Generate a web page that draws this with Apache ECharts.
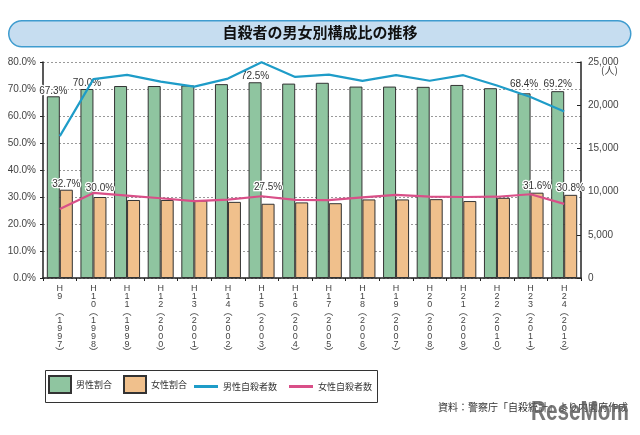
<!DOCTYPE html>
<html><head><meta charset="utf-8">
<script src="https://cdn.jsdelivr.net/npm/echarts@6/dist/echarts.min.js"></script>
<style>html,body{margin:0;padding:0;background:#fff}#c{width:640px;height:435px}</style>
</head><body><div id="c"></div>
<script>
const heisei = ['9','10','11','12','13','14','15','16','17','18','19','20','21','22','23','24'];
const years = ['1997','1998','1999','2000','2001','2002','2003','2004','2005','2006','2007','2008','2009','2010','2011','2012'];
const maleShare = [67.3,70.0,71.1,71.1,71.3,71.8,72.5,72.0,72.3,70.9,70.9,70.8,71.5,70.3,68.4,69.2];
const femaleShare = [32.7,30.0,28.9,28.9,28.7,28.2,27.5,28.0,27.7,29.1,29.1,29.2,28.5,29.7,31.6,30.8];
const maleCount = [16416,23013,23512,22727,22144,23080,24963,23272,23540,22813,23478,22831,23472,22283,20955,19273];
const femaleCount = [7975,9850,9536,9230,8898,9063,9464,9053,9012,9342,9615,9418,9373,9407,9696,8585];
const labelledIdx = [0,1,6,14,15];
const seriesNames = ['男性割合','女性割合','男性自殺者数','女性自殺者数'];
const titleText = '自殺者の男女別構成比の推移';
const unitText = '(人)';
const sourceText = '資料：警察庁「自殺統計」より内閣府作成';

const cats = heisei.map((h,i)=>{
  const hh = h.length===1 ? [h,' '] : h.split('');
  return ['H'].concat(hh,['︵'],years[i].split(''),['︶']).join('\n');
});

const maleDist = {0:0,1:1,6:1,14:4,15:2};
const femaleDist = {0:0,1:4,6:12,14:1,15:2};
function mk(vals, dist){
  return vals.map((v,i)=>{
    if(labelledIdx.indexOf(i)<0) return v;
    return {value:v,label:{show:true,position:'top',distance:dist[i],formatter:v.toFixed(1)+'%'}};
  });
}
const lblStyle = {fontSize:10,color:'#333',textBorderColor:'#fff',textBorderWidth:2.5,fontFamily:'Liberation Sans, Arial, sans-serif'};
const legendText = {fontSize:9,color:'#333',fontFamily:'"Noto Sans CJK JP", sans-serif'};

const chart = echarts.init(document.getElementById('c'),null,{renderer:'canvas'});
chart.setOption({
  animation:false,
  backgroundColor:'#fff',
  textStyle:{fontFamily:'Liberation Sans, Arial, "Noto Sans CJK JP", sans-serif'},
  graphic:[
    {type:'rect',left:8,top:20,shape:{width:622,height:26,r:13},style:{fill:'#c6ddf0',stroke:'#3f9ccf',lineWidth:1.5},z:0},
    {type:'text',left:'center',top:25,style:{text:titleText,fontSize:15,fontWeight:'bold',fill:'#111',fontFamily:'"Noto Sans CJK JP", sans-serif'},z:1},
    {type:'text',left:601,top:65,style:{text:unitText,fontSize:10,fill:'#444',fontFamily:'"Noto Sans CJK JP", sans-serif'}},
    {type:'rect',left:43,top:368,shape:{width:332,height:32},style:{fill:'none',stroke:'#333',lineWidth:1}},
    {type:'text',right:12,top:402,style:{text:sourceText,fontSize:10,fill:'#333',fontFamily:'"Noto Sans CJK JP", sans-serif'}},
    {type:'text',x:531,y:398,scaleX:0.74,style:{text:'ReseMom',fontSize:28,fontWeight:'bold',fill:'rgba(95,95,95,0.85)',fontFamily:'Liberation Sans, Arial, sans-serif'},z:10}
  ],
  legend:[
    {left:48,top:375,orient:'horizontal',itemWidth:22,itemHeight:17,itemGap:11,padding:0,
     icon:'rect',textStyle:legendText,
     data:[seriesNames[0],seriesNames[1]]},
    {left:194,top:382,orient:'horizontal',itemWidth:24,itemHeight:3,itemGap:12,padding:0,
     icon:'rect',textStyle:legendText,
     data:[seriesNames[2],seriesNames[3]]}
  ],
  grid:{left:43,right:59,top:62,bottom:157,containLabel:false},
  xAxis:{
    type:'category',data:cats,
    axisLine:{lineStyle:{color:'#222',width:1.5}},
    axisTick:{show:true,length:3,lineStyle:{color:'#222'}},
    axisLabel:{interval:0,fontSize:9,lineHeight:8,color:'#444',margin:7,verticalAlign:'top',fontFamily:'Liberation Sans, Arial, "Noto Sans CJK JP", sans-serif'}
  },
  yAxis:[
    {type:'value',min:0,max:80,interval:10,
     axisLine:{show:true,lineStyle:{color:'#222',width:1.5}},
     axisTick:{show:true,length:3,lineStyle:{color:'#222'}},
     splitLine:{show:true,lineStyle:{color:'#999',type:[2,2],width:1}},
     axisLabel:{fontSize:10,color:'#444',margin:7,formatter:v=>v.toFixed(1)+'%'}
    },
    {type:'value',min:0,max:25000,interval:5000,
     axisLine:{show:true,lineStyle:{color:'#222',width:1.5}},
     axisTick:{show:true,inside:true,length:4,lineStyle:{color:'#222'}},
     splitLine:{show:false},
     axisLabel:{fontSize:10,color:'#444',margin:7,formatter:v=>v.toLocaleString('en-US')}
    }
  ],
  series:[
    {name:seriesNames[0],type:'bar',yAxisIndex:0,barWidth:13,barGap:'0%',
     itemStyle:{color:'#8fc5a0',borderColor:'#333',borderWidth:1},
     label:Object.assign({show:false},lblStyle),
     data:mk(maleShare,maleDist),z:2},
    {name:seriesNames[1],type:'bar',yAxisIndex:0,barWidth:13,barGap:'0%',
     itemStyle:{color:'#f0c08c',borderColor:'#333',borderWidth:1},
     label:Object.assign({show:false},lblStyle),
     data:mk(femaleShare,femaleDist),z:2},
    {name:seriesNames[2],type:'line',yAxisIndex:1,symbol:'none',
     lineStyle:{color:'#1e9cc8',width:2.2},itemStyle:{color:'#1e9cc8'},
     data:maleCount,z:3},
    {name:seriesNames[3],type:'line',yAxisIndex:1,symbol:'none',
     lineStyle:{color:'#d94f88',width:2.2},itemStyle:{color:'#d94f88'},
     data:femaleCount,z:3}
  ]
});
</script></body></html>
